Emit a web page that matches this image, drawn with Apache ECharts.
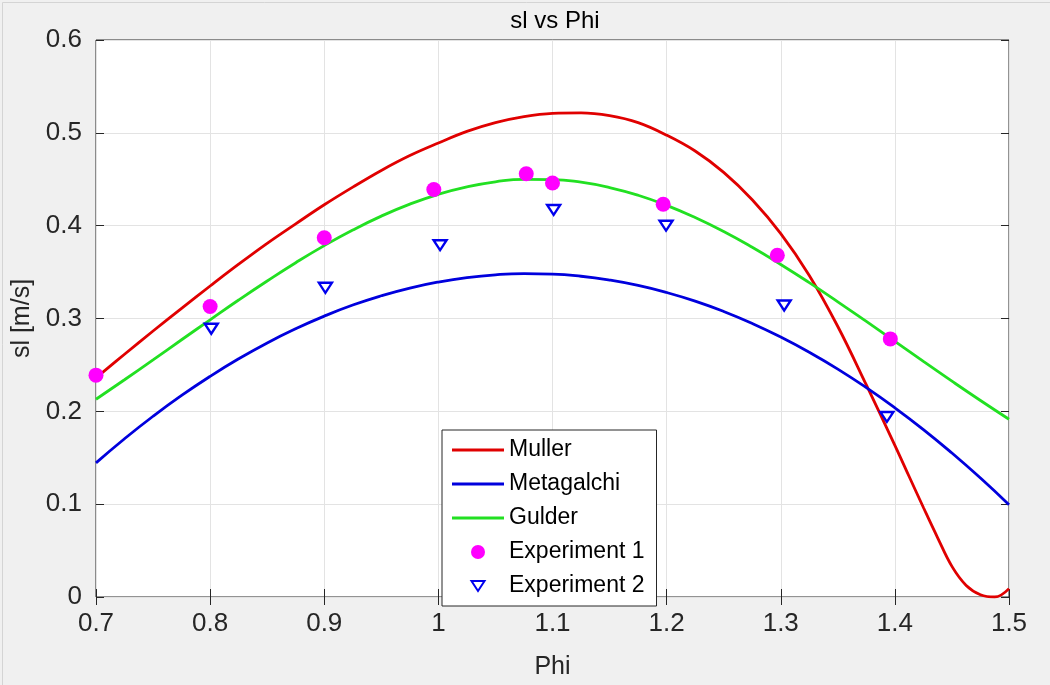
<!DOCTYPE html>
<html>
<head>
<meta charset="utf-8">
<script src="https://cdn.jsdelivr.net/npm/echarts@6/dist/echarts.min.js"></script>
<style>
html,body{margin:0;padding:0;background:#f0f0f0;}
#chart{width:1050px;height:685px;}
</style>
</head>
<body>
<div id="chart"></div>
<script>
// Equivalence ratio grid for the correlation curves
const phi = [0.7, 0.725, 0.75, 0.775, 0.8, 0.825, 0.85, 0.875, 0.9, 0.925, 0.95, 0.975,
  1.0, 1.025, 1.05, 1.075, 1.1, 1.125, 1.15, 1.175, 1.2, 1.225, 1.25, 1.275,
  1.3, 1.325, 1.35, 1.375, 1.4, 1.425, 1.45, 1.475, 1.5];
const metagalchi = [0.1445, 0.1705, 0.1947, 0.2171, 0.2377, 0.2566, 0.2737, 0.2890, 0.3026, 0.3145, 0.3245, 0.3328,
  0.3393, 0.3441, 0.3471, 0.3483, 0.3478, 0.3455, 0.3414, 0.3356, 0.3280, 0.3187, 0.3076, 0.2947,
  0.2800, 0.2636, 0.2455, 0.2255, 0.2038, 0.1804, 0.1551, 0.1281, 0.0994];
const gulder = [0.2130, 0.2340, 0.2554, 0.2771, 0.2986, 0.3199, 0.3404, 0.3601, 0.3785, 0.3953, 0.4103, 0.4232,
  0.4338, 0.4418, 0.4472, 0.4499, 0.4497, 0.4468, 0.4411, 0.4328, 0.4219, 0.4088, 0.3937, 0.3767,
  0.3582, 0.3386, 0.3180, 0.2968, 0.2753, 0.2538, 0.2325, 0.2117, 0.1915];
const mullerPhi = [0.7, 0.725, 0.75, 0.775, 0.8, 0.825, 0.85, 0.875, 0.9, 0.925, 0.95, 0.975,
  1.0, 1.025, 1.05, 1.075, 1.1, 1.125, 1.15, 1.175, 1.2, 1.225, 1.25, 1.275,
  1.3, 1.325, 1.35, 1.375, 1.4, 1.4125, 1.425, 1.4375, 1.45, 1.4625, 1.475, 1.4875, 1.5];
const muller = [0.236, 0.2615, 0.2865, 0.311, 0.335, 0.3585, 0.381, 0.402, 0.4225, 0.4415, 0.4595, 0.4755,
  0.489, 0.5015, 0.511, 0.5175, 0.521, 0.5215, 0.5185, 0.511, 0.4975, 0.4804, 0.4574, 0.4279,
  0.3914, 0.3464, 0.2914, 0.2284, 0.1634, 0.1298, 0.0964, 0.0638, 0.0330, 0.0125, 0.0025, 0.0, 0.009];
const exp1Phi = [0.7, 0.8, 0.9, 0.996, 1.077, 1.1, 1.197, 1.297, 1.396];
const exp1 = [0.239, 0.313, 0.387, 0.439, 0.456, 0.446, 0.423, 0.368, 0.278];
const exp2Phi = [0.801, 0.901, 1.0015, 1.101, 1.1995, 1.303, 1.393];
const exp2 = [0.289, 0.333, 0.379, 0.417, 0.400, 0.314, 0.194];
const xTicks = [0.7, 0.8, 0.9, 1, 1.1, 1.2, 1.3, 1.4, 1.5];
const yTicks = [0, 0.1, 0.2, 0.3, 0.4, 0.5, 0.6];

const zip = (xs, ys) => xs.map((x, i) => [x, ys[i]]);
const FONT = "'Liberation Sans', Arial, Helvetica, sans-serif";
const TXT = '#262626';
const RED = '#e00000', BLUE = '#0000dd', GREEN = '#22e022', MAG = '#ff00ff';
// downward triangle padded vertically so its box is 13x14
const triDown = 'path://M0,2 L13,2 L6.5,12 Z M0,0 L0,0 M0,14 L0,14';
const lineIcon = 'path://M0,0 L52,0 L52,3 L0,3 Z';

const chart = echarts.init(document.getElementById('chart'), null, {renderer: 'canvas'});
const tickLen = 8;
const xBase = {
  type: 'value', min: 0.7, max: 1.5, interval: 0.1,
  axisLine: {show: false},
  axisTick: {show: true, inside: true, length: tickLen, lineStyle: {color: TXT, width: 1}},
  splitLine: {show: false},
  axisLabel: {show: false}
};
const yBase = {
  type: 'value', min: 0, max: 0.6, interval: 0.1,
  axisLine: {show: false},
  axisTick: {show: true, inside: true, length: tickLen, lineStyle: {color: TXT, width: 1}},
  splitLine: {show: false},
  axisLabel: {show: false}
};

chart.setOption({
  backgroundColor: '#f0f0f0',
  animation: false,
  textStyle: {fontFamily: FONT},
  title: {
    text: 'sl vs Phi', left: 550, top: 4, textAlign: 'center',
    textStyle: {fontFamily: FONT, fontSize: 24, fontWeight: 'normal', color: '#000'}
  },
  grid: {
    left: 96, right: 41, top: 40, bottom: 81,
    show: true, backgroundColor: '#ffffff', borderColor: '#262626', borderWidth: 1
  },
  xAxis: [
    Object.assign({}, xBase, {
      position: 'bottom',
      name: 'Phi', nameLocation: 'middle', nameGap: 58,
      nameTextStyle: {fontFamily: FONT, fontSize: 25, color: TXT},
      splitLine: {show: true, lineStyle: {color: '#e3e3e3', width: 1}},
      axisLabel: {
        show: true, margin: 14, fontSize: 26, color: TXT, fontFamily: FONT,
        formatter: v => String(xTicks.find(t => Math.abs(t - v) < 1e-6) ?? v)
      }
    }),
    Object.assign({}, xBase, {position: 'top'})
  ],
  yAxis: [
    Object.assign({}, yBase, {
      position: 'left',
      name: 'sl [m/s]', nameLocation: 'middle', nameGap: 54,
      nameTextStyle: {fontFamily: FONT, fontSize: 25, color: TXT},
      splitLine: {show: true, lineStyle: {color: '#e3e3e3', width: 1}},
      axisLabel: {
        show: true, margin: 14, fontSize: 26, color: TXT, fontFamily: FONT,
        formatter: v => String(yTicks.find(t => Math.abs(t - v) < 1e-6) ?? v)
      }
    }),
    Object.assign({}, yBase, {position: 'right'})
  ],
  legend: {
    orient: 'vertical', left: 442, top: 430,
    padding: [8, 12, 8, 10],
    itemGap: 10, itemWidth: 52, itemHeight: 14,
    backgroundColor: '#ffffff', borderColor: '#262626', borderWidth: 1,
    textStyle: {fontFamily: FONT, fontSize: 23, color: '#000', lineHeight: 24},
    data: [
      {name: 'Muller', icon: lineIcon},
      {name: 'Metagalchi', icon: lineIcon},
      {name: 'Gulder', icon: lineIcon},
      {name: 'Experiment 1', icon: 'circle'},
      {name: 'Experiment 2', icon: triDown}
    ]
  },
  series: [
    {
      name: 'Muller', type: 'line', data: zip(mullerPhi, muller), smooth: 0.4,
      symbol: 'none', clip: true, lineStyle: {color: RED, width: 2.8}, itemStyle: {color: RED}, z: 3
    },
    {
      name: 'Metagalchi', type: 'line', data: zip(phi, metagalchi), smooth: true,
      symbol: 'none', clip: true, lineStyle: {color: BLUE, width: 2.8}, itemStyle: {color: BLUE}, z: 3
    },
    {
      name: 'Gulder', type: 'line', data: zip(phi, gulder), smooth: true,
      symbol: 'none', clip: true, lineStyle: {color: GREEN, width: 2.8}, itemStyle: {color: GREEN}, z: 3
    },
    {
      name: 'Experiment 1', type: 'scatter', data: zip(exp1Phi, exp1),
      symbol: 'circle', symbolSize: 15, clip: false,
      itemStyle: {color: MAG, opacity: 1}, z: 4
    },
    {
      name: 'Experiment 2', type: 'scatter', data: zip(exp2Phi, exp2),
      symbol: triDown, symbolSize: [13, 14], clip: false,
      itemStyle: {color: '#ffffff', borderColor: '#0000ee', borderWidth: 2.4, opacity: 1}, z: 4
    }
  ],
  graphic: [{
    type: 'rect', left: 0, top: 0, z: -10, silent: true,
    shape: {x: 0.5, y: 0.5, width: 1049, height: 684},
    style: {fill: 'none', stroke: '#d4d4d4', lineWidth: 1}
  }]
});
</script>
</body>
</html>
